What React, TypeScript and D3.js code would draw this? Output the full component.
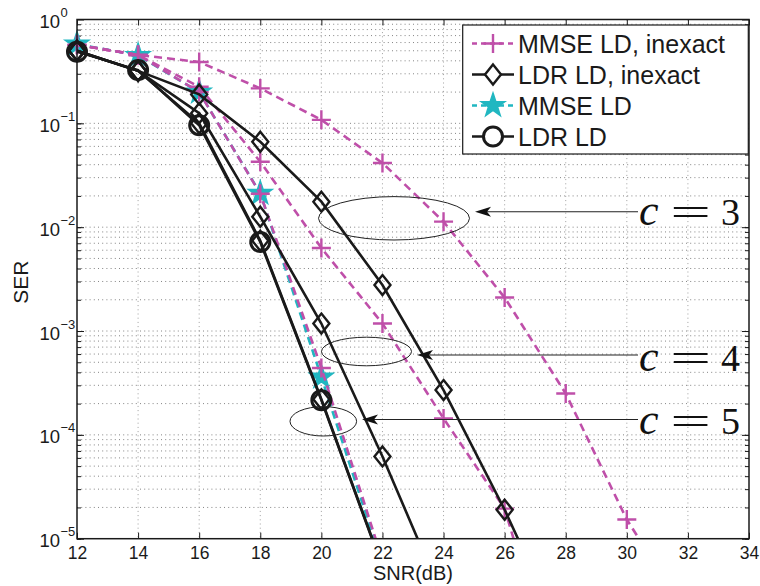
import React, { useRef, useEffect } from 'react';
import * as d3 from 'd3';

// SNR grid of the simulation (dB)
const snrDb = [12, 14, 16, 18, 20, 22, 24, 26, 28, 30, 32];
const xTicks = [12, 14, 16, 18, 20, 22, 24, 26, 28, 30, 32, 34];
const yDecades = [-5, -4, -3, -2, -1, 0];

// c = 3
const mmseInexactC3 = [0.57, 0.455, 0.39, 0.217, 0.108, 0.0415, 0.0113, 0.0021, 2.5e-4, 1.53e-5, 1.8e-6];
const ldrInexactC3 = [0.5, 0.32, 0.19, 0.0665, 0.0176, 0.00277, 2.7e-4, 1.9e-5, 1.0e-6];
// c = 4
const mmseInexactC4 = [0.57, 0.455, 0.225, 0.0427, 0.0063, 0.00118, 1.44e-4, 1.95e-5, 2e-7];
const ldrInexactC4 = [0.5, 0.32, 0.125, 0.0126, 0.00118, 6.2e-5, 2.6e-6];
// c = 5
const mmseInexactC5 = [0.57, 0.455, 0.2, 0.021, 4.4e-4, 6.2e-6];
const ldrInexactC5 = [0.5, 0.32, 0.1, 0.0074, 2.2e-4, 5.4e-6];
const mmseC5 = [0.58, 0.45, 0.2, 0.0212, 3.6e-4, 5.6e-6];
const ldrC5 = [0.49, 0.326, 0.096, 0.0072, 2.16e-4, 5.3e-6];

const legendLabels = ['MMSE LD, inexact', 'LDR LD, inexact', 'MMSE LD', 'LDR LD'];
const cLabels = ['3', '4', '5'];

const MAGENTA = '#bf4fa9';
const CYAN = '#21b7c1';
const INK = '#1a1a1a';
const SANS = '"Liberation Sans", Arial, Helvetica, sans-serif';
const SERIF = '"Liberation Serif", "DejaVu Serif", serif';

const markerPath = (kind) => {
  if (kind === 'plus') return 'M-9.5,0H9.5M0,-9.5V9.5';
  if (kind === 'diamond') return 'M0,-10L8,0L0,10L-8,0Z';
  if (kind === 'circle') return d3.arc()({ innerRadius: 0, outerRadius: 9.5, startAngle: 0, endAngle: 2 * Math.PI });
  // pentagram
  const pts = d3.range(10).map(i => {
    const r = i % 2 === 0 ? 11 : 4.3;
    const a = -Math.PI / 2 + i * Math.PI / 5;
    return [r * Math.cos(a), r * Math.sin(a)];
  });
  return 'M' + pts.map(p => p.join(',')).join('L') + 'Z';
};

const plot = (svgRef) => {
  const svg = d3.select(svgRef.current);
  svg.selectAll('*').remove();

  const width = 760, height = 586;
  const margin = { left: 77, right: 11, top: 19.5, bottom: 47.3 };

  const x = d3.scaleLinear().domain([12, 34]).range([margin.left, width - margin.right]);
  const y = d3.scaleLog().domain([1e-5, 1]).range([height - margin.bottom, margin.top]);

  const x0 = x(12), x1 = x(34), yb = y(1e-5), yt = y(1);

  svg.append('rect').attr('width', width).attr('height', height).attr('fill', '#fff');

  // grid (dotted, MATLAB style)
  const minorVals = d3.range(-5, 0).flatMap(k => d3.range(1, 10).map(m => m * Math.pow(10, k)));
  const grid = svg.append('g').attr('stroke', '#666').attr('stroke-width', 0.8).attr('stroke-dasharray', '1,3.2');
  grid.selectAll('line.h')
    .data(minorVals.filter(v => v > 1.01e-5))
    .join('line')
    .attr('x1', x0).attr('x2', x1)
    .attr('y1', d => y(d)).attr('y2', d => y(d));
  grid.selectAll('line.v')
    .data(xTicks.slice(1, -1))
    .join('line')
    .attr('x1', d => x(d)).attr('x2', d => x(d))
    .attr('y1', yt).attr('y2', yb)
    .attr('stroke', '#888');

  // ticks
  const styleAxis = g => {
    g.select('.domain').remove();
    g.selectAll('line').attr('stroke', INK).attr('stroke-width', 1);
  };
  svg.append('g').attr('transform', `translate(0,${yb})`)
    .call(d3.axisBottom(x).tickValues(xTicks).tickSize(-6).tickPadding(8).tickFormat(d3.format('d')))
    .call(styleAxis)
    .call(g => g.selectAll('text').attr('font-size', 17.5).attr('font-family', SANS).attr('fill', INK));
  svg.append('g').attr('transform', `translate(0,${yt})`)
    .call(d3.axisTop(x).tickValues(xTicks).tickSize(-6).tickFormat(() => ''))
    .call(styleAxis);
  svg.append('g').attr('transform', `translate(${x0},0)`)
    .call(d3.axisLeft(y).tickValues(minorVals).tickSize(-4).tickFormat(() => ''))
    .call(styleAxis);
  svg.append('g').attr('transform', `translate(${x0},0)`)
    .call(d3.axisLeft(y).tickValues(yDecades.map(k => Math.pow(10, k))).tickSize(-7).tickFormat(() => ''))
    .call(styleAxis);
  svg.append('g').attr('transform', `translate(${x1},0)`)
    .call(d3.axisRight(y).tickValues(minorVals).tickSize(-4).tickFormat(() => ''))
    .call(styleAxis);
  svg.append('g').attr('transform', `translate(${x1},0)`)
    .call(d3.axisRight(y).tickValues(yDecades.map(k => Math.pow(10, k))).tickSize(-7).tickFormat(() => ''))
    .call(styleAxis);

  // y tick labels 10^k
  const yLab = svg.append('g').attr('font-family', SANS).attr('fill', INK);
  yLab.selectAll('text.base')
    .data(yDecades)
    .join('text')
    .attr('x', 60).attr('y', d => y(Math.pow(10, d)) + 8.5)
    .attr('text-anchor', 'end').attr('font-size', 18.5)
    .text('10');
  yLab.selectAll('text.sup')
    .data(yDecades)
    .join('text')
    .attr('x', 60.5).attr('y', d => y(Math.pow(10, d)) - 2.5)
    .attr('font-size', 13)
    .text(d => (d === 0 ? '0' : '\u2212' + (-d)));

  // axis labels
  svg.append('text')
    .attr('x', (x0 + x1) / 2).attr('y', 580)
    .attr('text-anchor', 'middle').attr('font-size', 20).attr('font-family', SANS).attr('fill', INK)
    .text('SNR(dB)');
  svg.append('text')
    .attr('transform', `translate(28.3,${(yt + yb) / 2 + 3}) rotate(-90)`)
    .attr('text-anchor', 'middle').attr('font-size', 21).attr('font-family', SANS).attr('fill', INK)
    .text('SER');

  // data
  svg.append('defs').append('clipPath').attr('id', 'plotclip')
    .append('rect').attr('x', x0).attr('y', yt).attr('width', x1 - x0).attr('height', yb - yt);

  const series = [
    { values: mmseC5, color: CYAN, dash: '8,5', marker: 'star' },
    { values: mmseInexactC3, color: MAGENTA, dash: '8,5', marker: 'plus' },
    { values: mmseInexactC4, color: MAGENTA, dash: '8,5', marker: 'plus' },
    { values: mmseInexactC5, color: MAGENTA, dash: '8,5', marker: 'plus' },
    { values: ldrInexactC3, color: INK, dash: null, marker: 'diamond' },
    { values: ldrInexactC4, color: INK, dash: null, marker: 'diamond' },
    { values: ldrInexactC5, color: INK, dash: null, marker: 'diamond' },
    { values: ldrC5, color: INK, dash: null, marker: 'circle' },
  ];

  const line = d3.line().x((d, i) => x(snrDb[i])).y(d => y(d));

  series.forEach(s => {
    svg.append('path')
      .datum(s.values)
      .attr('clip-path', 'url(#plotclip)')
      .attr('fill', 'none')
      .attr('stroke', s.color)
      .attr('stroke-width', 2.6)
      .attr('stroke-dasharray', s.dash)
      .attr('d', line);
    svg.append('g')
      .selectAll('path')
      .data(s.values.map((v, i) => [snrDb[i], v]).filter(p => p[1] >= 1e-5))
      .join('path')
      .attr('transform', d => `translate(${x(d[0])},${y(d[1])})`)
      .attr('d', markerPath(s.marker))
      .attr('fill', s.marker === 'star' ? s.color : 'none')
      .attr('stroke', s.color)
      .attr('stroke-width', s.marker === 'circle' ? 3 : 2.4);
  });

  // axes box
  svg.append('rect')
    .attr('x', x0).attr('y', yt).attr('width', x1 - x0).attr('height', yb - yt)
    .attr('fill', 'none').attr('stroke', INK).attr('stroke-width', 1.5);

  // annotations: ellipses, arrows, c = n
  const notes = [
    { cx: 394, cy: 218.3, rx: 75.5, ry: 21.7, tip: 475, ay: 211.7, base: 225 },
    { cx: 366.5, cy: 351.5, rx: 45, ry: 14.3, tip: 417, ay: 355, base: 370.7 },
    { cx: 323.3, cy: 421.3, rx: 33.3, ry: 14.7, tip: 362, ay: 419.5, base: 434 },
  ];
  const ann = svg.append('g');
  notes.forEach((n, i) => {
    ann.append('ellipse')
      .attr('cx', n.cx).attr('cy', n.cy).attr('rx', n.rx).attr('ry', n.ry)
      .attr('fill', 'none').attr('stroke', '#222').attr('stroke-width', 1);
    ann.append('line')
      .attr('x1', 638).attr('x2', n.tip + 10).attr('y1', n.ay).attr('y2', n.ay)
      .attr('stroke', '#222').attr('stroke-width', 1.1);
    ann.append('path')
      .attr('transform', `translate(${n.tip},${n.ay})`)
      .attr('d', 'M0,0L16,-5L12,0L16,5Z')
      .attr('fill', '#111');
    ann.append('text')
      .attr('x', 639).attr('y', n.base)
      .attr('font-family', SERIF)
      .attr('font-style', 'italic').attr('font-size', 44).attr('fill', '#111')
      .text('c');
    ann.append('text')
      .attr('transform', `translate(690.5,${n.base}) scale(1.9,1)`)
      .attr('text-anchor', 'middle')
      .attr('font-family', SERIF)
      .attr('font-size', 38).attr('fill', '#111')
      .text('=');
    ann.append('text')
      .attr('x', 721).attr('y', n.base)
      .attr('font-family', SERIF)
      .attr('font-size', 38).attr('fill', '#111')
      .text(cLabels[i]);
  });

  // legend
  const legendStyles = [
    { color: MAGENTA, dash: '5,4', marker: 'plus' },
    { color: INK, dash: null, marker: 'diamond' },
    { color: CYAN, dash: '5,4', marker: 'star' },
    { color: INK, dash: null, marker: 'circle' },
  ];
  const leg = svg.append('g');
  leg.append('rect')
    .attr('x', 462.7).attr('y', 25).attr('width', 285.6).attr('height', 129)
    .attr('fill', '#fff').attr('stroke', INK).attr('stroke-width', 1.2);
  legendLabels.forEach((label, i) => {
    const ly = 43.5 + i * 31;
    const st = legendStyles[i];
    leg.append('line')
      .attr('x1', 472).attr('x2', 514).attr('y1', ly).attr('y2', ly)
      .attr('stroke', st.color).attr('stroke-width', 2.6).attr('stroke-dasharray', st.dash);
    leg.append('path')
      .attr('transform', `translate(493,${ly})`)
      .attr('d', markerPath(st.marker))
      .attr('fill', st.marker === 'star' ? st.color : (st.marker === 'plus' ? 'none' : '#fff'))
      .attr('stroke', st.color)
      .attr('stroke-width', st.marker === 'circle' ? 3 : 2.4);
    leg.append('text')
      .attr('x', 518).attr('y', ly + 9)
      .attr('font-family', SANS).attr('font-size', 25).attr('fill', INK)
      .text(label);
  });
};

export default function App() {
  const svgRef = useRef(null);

  useEffect(() => {
    plot(svgRef);
  }, []);

  return (
    <svg
      ref={svgRef}
      width={760}
      height={586}
      style={{ position: 'absolute', left: 0, top: 0, display: 'block' }}
    />
  );
}
